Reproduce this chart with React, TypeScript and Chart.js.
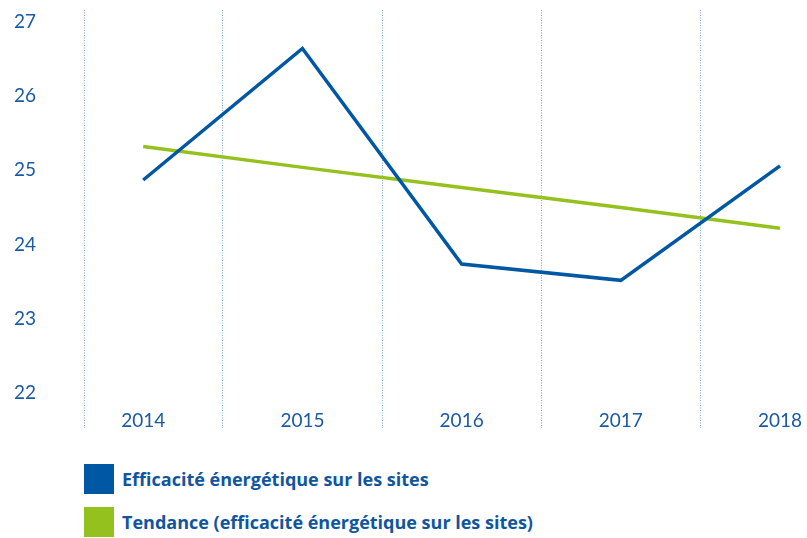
import React, { useEffect, useRef } from "react";
import { Chart, registerables } from "chart.js";

Chart.register(...registerables);

const years = [2014, 2015, 2016, 2017, 2018];
const efficacite = [24.87, 26.64, 23.74, 23.52, 25.06];
const tendance = [25.32, 25.04, 24.77, 24.5, 24.22];
const yTicks = [22, 23, 24, 25, 26, 27];
const xGridLines = [2014.5, 2015.5, 2016.5, 2017.5];
const seriesNames = [
  "Efficacité énergétique sur les sites",
  "Tendance (efficacité énergétique sur les sites)",
];
const seriesColors = ["#0057a3", "#95c11f"];

const X_MIN = 2013.628;
const X_MAX = 2018.16;
const Y_MIN = 21.843;
const Y_MAX = 27.157;
const TEXT_BLUE = "#1a5aa3";
const GRID_BLUE = "#7fa8d8";

export default function App() {
  const ref = useRef<HTMLCanvasElement | null>(null);

  useEffect(() => {
    if (!ref.current) return;
    const gridColor = (ctx: any) => {
      const v = ctx.tick ? ctx.tick.value : 0;
      if (Math.abs(v - X_MIN) < 1e-6) return GRID_BLUE;
      if (xGridLines.some((g) => Math.abs(g - v) < 1e-6)) return GRID_BLUE;
      return "rgba(0,0,0,0)";
    };
    const chart = new Chart(ref.current, {
      type: "line",
      data: {
        datasets: [
          {
            label: seriesNames[0],
            data: years.map((y, i) => ({ x: y, y: efficacite[i] })),
            borderColor: seriesColors[0],
            backgroundColor: seriesColors[0],
            borderWidth: 3.5,
            pointRadius: 0,
            tension: 0,
            borderJoinStyle: "miter",
            borderCapStyle: "butt",
          },
          {
            label: seriesNames[1],
            data: years.map((y, i) => ({ x: y, y: tendance[i] })),
            borderColor: seriesColors[1],
            backgroundColor: seriesColors[1],
            borderWidth: 3.5,
            pointRadius: 0,
            tension: 0,
            borderCapStyle: "butt",
          },
        ],
      },
      options: {
        animation: false,
        responsive: true,
        maintainAspectRatio: false,
        layout: { padding: { left: 14, top: 10, right: 1.5, bottom: 0 } },
        plugins: {
          legend: { display: false },
          tooltip: { enabled: false },
        },
        scales: {
          x: {
            type: "linear",
            min: X_MIN,
            max: X_MAX,
            afterBuildTicks: (scale: any) => {
              const vals = [X_MIN, ...years, ...xGridLines, X_MAX].sort((a, b) => a - b);
              scale.ticks = vals.map((v) => ({ value: v }));
            },
            afterFit: (scale: any) => {
              scale.height = 35;
            },
            grid: {
              drawTicks: true,
              tickLength: 23,
              lineWidth: 1,
              tickWidth: 1,
              color: gridColor,
              tickColor: gridColor,
              tickBorderDash: [1, 1.5],
            },
            border: { display: false, dash: [1, 1.5] },
            ticks: {
              autoSkip: false,
              maxRotation: 0,
              padding: -18.4,
              color: TEXT_BLUE,
              font: { family: "Lato", size: 19, lineHeight: 1.2 },
              callback: (v: any) => (years.includes(Number(v)) ? String(v) : ""),
            },
          },
          y: {
            type: "linear",
            min: Y_MIN,
            max: Y_MAX,
            afterBuildTicks: (scale: any) => {
              scale.ticks = yTicks.map((v) => ({ value: v }));
            },
            afterFit: (scale: any) => {
              scale.width = 70;
            },
            grid: { display: false, drawTicks: false },
            border: { display: false },
            ticks: {
              crossAlign: "far",
              padding: 0,
              color: TEXT_BLUE,
              font: { family: "Lato", size: 19, lineHeight: 1 },
              callback: (v: any) => String(v),
            },
          },
        },
      },
    });
    return () => chart.destroy();
  }, []);

  return (
    <div style={{ position: "fixed", left: 0, top: 0, width: 807, height: 538, background: "#fff" }}>
      <div style={{ position: "absolute", left: 0, top: 0, width: 807, height: 440 }}>
        <canvas ref={ref} />
      </div>
      {seriesNames.map((name, i) => (
        <div
          key={name}
          style={{
            position: "absolute",
            left: 84,
            top: 464 + i * 43,
            height: 30,
            display: "flex",
            alignItems: "center",
            fontFamily: "'Open Sans'",
            fontWeight: 700,
            fontSize: 18,
            color: "#0f55a0",
            whiteSpace: "nowrap",
          }}
        >
          <span style={{ display: "inline-block", width: 30, height: 30, background: seriesColors[i], marginRight: 8 }} />
          <span>{name}</span>
        </div>
      ))}
    </div>
  );
}
